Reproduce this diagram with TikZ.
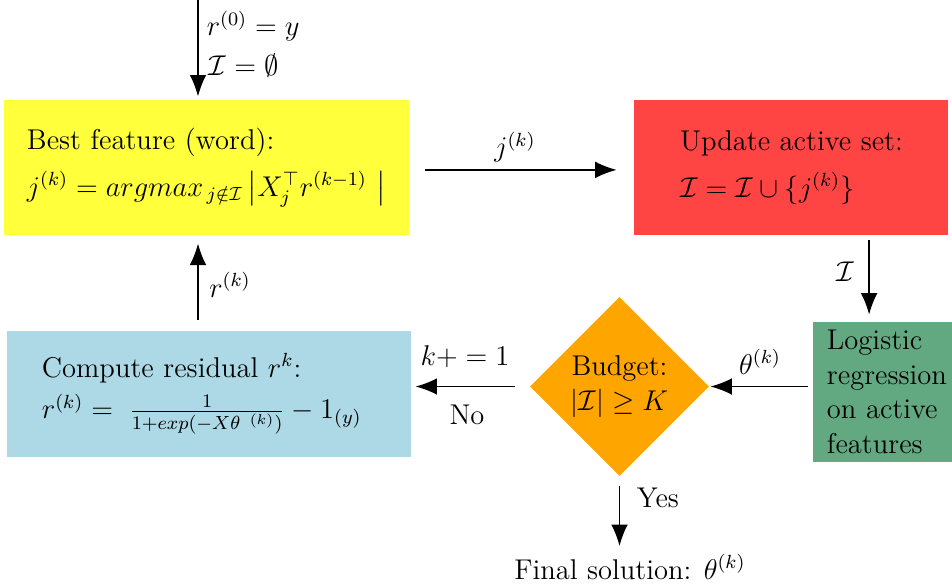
\documentclass[tikz,border=0pt,12pt]{standalone}
\usepackage{amsmath,amssymb}
\usetikzlibrary{arrows.meta,shapes.geometric}
\definecolor{ybox}{RGB}{255,255,60}
\definecolor{rbox}{RGB}{255,68,68}
\definecolor{bbox}{RGB}{173,216,230}
\definecolor{gbox}{RGB}{98,168,128}
\definecolor{obox}{RGB}{255,165,0}
\begin{document}
\begin{tikzpicture}[x=0.42pt,y=-0.42pt,
  >={Latex[length=9pt,width=7pt]},
  box/.style={draw=none, inner sep=0pt, align=left},
  conn/.style={->, line width=0.65pt},
  lbl/.style={inner sep=1pt}]
\useasboundingbox (0,0) rectangle (952,587);
% boxes
\node[box, fill=ybox, minimum width=170.1pt, minimum height=56.7pt, text width=150.8pt] (yb) at (206.5,167.5)
  {\mbox{Best feature (word):}\\[5pt] \mbox{$j^{(k)}=argmax_{\,j\notin\mathcal{I}}\left|X_j^{\top}r^{(k{-}1)}\ \right|$}};
\node[box, fill=rbox, minimum width=131.9pt, minimum height=56.7pt, text width=93.2pt] (rb) at (791,167.5)
  {\mbox{Update active set:}\\[5pt] \mbox{$\mathcal{I}=\mathcal{I}\cup\{j^{(k)}\}$}};
\node[box, fill=gbox, minimum width=63.8pt, minimum height=58.8pt, text width=52.1pt] (gb) at (889,392)
  {\mbox{Logistic}\\\mbox{regression}\\\mbox{on active}\\\mbox{features}};
\node[diamond, fill=obox, inner sep=0pt, minimum width=75.2pt, minimum height=75.2pt, align=center] (dm) at (619.5,386.5)
  {Budget:\\$|\mathcal{I}|\geq K$};
\node[box, fill=bbox, minimum width=169.7pt, minimum height=52.9pt, text width=140.3pt] (bb) at (209,394)
  {\mbox{Compute residual $r^k$:}\\[3pt] \mbox{$r^{(k)}=\;\frac{1}{1+exp({-}X\theta^{\ (k)})}-1_{(y)}$}};
\node[lbl] (fs) at (630,567) {Final solution: $\theta^{(k)}$};
% coordinates
\coordinate (top) at (198,0);
\coordinate (ia) at ([xshift=32.8pt]rb.south);
\coordinate (ra) at (198,331);
\coordinate (ye) at (619.5,546);
% connectors
\draw[conn, shorten >=1.3pt] (top) -- (top |- yb.north);
\draw[conn, shorten <=6.7pt, shorten >=7.1pt] ([yshift=-1pt]yb.east) -- ([yshift=-1pt]rb.west);
\draw[conn, shorten <=2.1pt, shorten >=2.9pt] (ia) -- (ia |- gb.north);
\draw[conn, shorten <=2.1pt, shorten >=0.4pt] (gb.west |- dm.east) -- (dm.east);
\draw[conn, shorten <=5.9pt, shorten >=1.7pt] (dm.west) -- (dm.west -| bb.east);
\draw[conn, shorten <=3.8pt] (dm.south) -- (ye);
\draw[conn, shorten <=4.6pt, shorten >=3.4pt] (ra) -- (ra |- yb.south);
% labels
\node[lbl, anchor=west] (l0) at (204,26) {$r^{(0)}=y$};
\node[lbl, anchor=west] (l1) at (206,66) {$\mathcal{I}=\emptyset$};
\node[lbl] (lj) at (515,147) {$j^{(k)}$};
\node[lbl] (li) at (845,272) {$\mathcal{I}$};
\node[lbl] (lt) at (760,362) {$\theta^{(k)}$};
\node[lbl] (lk) at (465,357) {$k+=1$};
\node[lbl] (ln) at (467,415) {No};
\node[lbl, anchor=west] (ly) at (634,498) {Yes};
\node[lbl] (lr) at (230,285) {$r^{(k)}$};
\end{tikzpicture}
\end{document}
